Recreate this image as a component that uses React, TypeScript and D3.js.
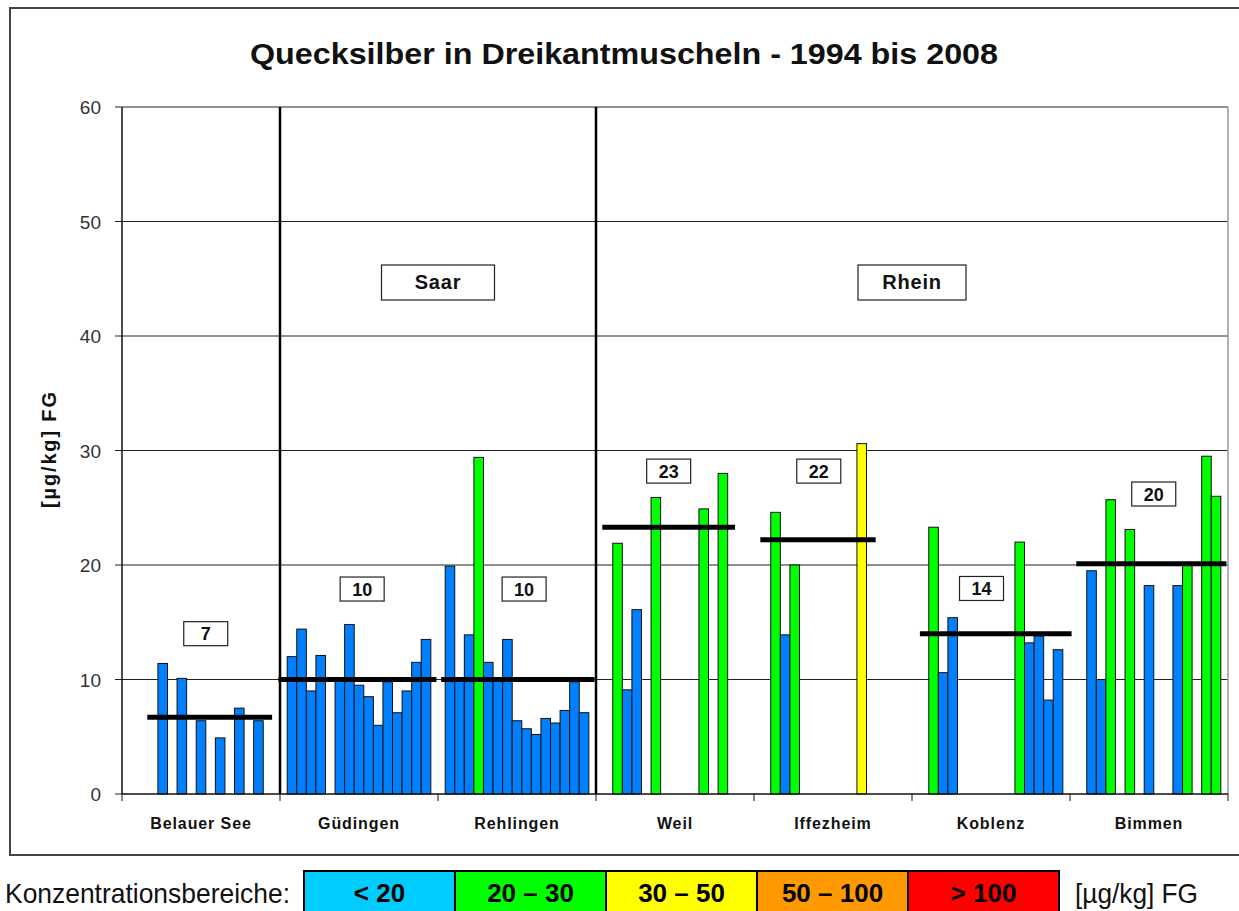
import React from "react";
import * as d3 from "d3";

const W = 1239;
const H = 911;

// plot frame (px)
const plot = { left: 122, right: 1228, top: 107, bottom: 794 };

const stations = ["Belauer See", "Güdingen", "Rehlingen", "Weil", "Iffezheim", "Koblenz", "Bimmen"];
const years = ["1994", "1995", "1996", "1997", "1998", "1999", "2000", "2001", "2002", "2003", "2004", "2005", "2006", "2007", "2008"];

// Hg values per station and year, null = no sample
const belauerSee = [null, null, null, 11.4, null, 10.1, null, 6.4, null, 4.9, null, 7.5, null, 6.4, null];
const guedingen = [12.0, 14.4, 9.0, 12.1, null, 9.9, 14.8, 9.5, 8.5, 6.0, 9.8, 7.1, 9.0, 11.5, 13.5];
const rehlingen = [19.9, 9.9, 13.9, 29.4, 11.5, 9.9, 13.5, 6.4, 5.7, 5.2, 6.6, 6.2, 7.3, 9.8, 7.1];
const weil = [null, 21.9, 9.1, 16.1, null, 25.9, null, null, null, null, 24.9, null, 28.0, null, null];
const iffezheim = [null, 24.6, 13.9, 20.0, null, null, null, null, null, null, 30.6, null, null, null, null];
const koblenz = [null, 23.3, 10.6, 15.4, null, null, null, null, null, null, 22.0, 13.2, 13.8, 8.2, 12.6];
const bimmen = [null, 19.5, 10.0, 25.7, null, 23.1, null, 18.2, null, null, 18.2, 20.0, null, 29.5, 26.0];

const seriesByStation: (number | null)[][] = [belauerSee, guedingen, rehlingen, weil, iffezheim, koblenz, bimmen];

// mean per station (line) and the rounded label
const meanValues = [6.7, 10.0, 10.0, 23.3, 22.2, 14.0, 20.1];
const meanLabels = ["7", "10", "10", "23", "22", "14", "20"];

const yTicks = [0, 10, 20, 30, 40, 50, 60];

const legendLabels = ["< 20", "20 – 30", "30 – 50", "50 – 100", "> 100"];
const legendColors = ["#00CCFF", "#00FF00", "#FFFF00", "#FF9900", "#FF0000"];

// hand placed annotation layout (fraction of band, y in data units)
const meanSpans = [[0.16, 0.95], [-0.01, 0.99], [0.02, 0.99], [0.04, 0.88], [0.04, 0.77], [0.05, 1.01], [0.04, 0.99]];
const labelPos = [[0.53, 14.0], [0.52, 17.9], [0.545, 17.9], [0.46, 28.2], [0.41, 28.2], [0.44, 17.95], [0.53, 26.2]];

const barColor = (v: number) => (v < 20 ? "#0080FF" : v < 30 ? "#00FF00" : v < 50 ? "#FFFF00" : v < 100 ? "#FF9900" : "#FF0000");

const font = "'Liberation Sans', Arial, sans-serif";

export default function App() {
  const x = d3.scaleBand().domain(stations).range([plot.left, plot.right]).padding(0);
  const xi = d3.scaleBand().domain(years).range([0, x.bandwidth()]).paddingInner(0).paddingOuter(0.75);
  const y = d3.scaleLinear().domain([0, 60]).range([plot.bottom, plot.top]);
  const bw = x.bandwidth();

  return (
    <svg width={W} height={H} style={{ position: "absolute", left: 0, top: 0 }} fontFamily={font}>
      <rect width={W} height={H} fill="white" />
      {/* outer chart frame */}
      <rect x={10} y={8} width={1240} height={847} fill="none" stroke="#444" strokeWidth={2} />

      <text x={624} y={64} textAnchor="middle" fontSize={29} fontWeight="bold" fill="#111" textLength={748} lengthAdjust="spacingAndGlyphs">
        Quecksilber in Dreikantmuscheln - 1994 bis 2008
      </text>

      {/* grid */}
      {yTicks.map((t) => (
        <g key={t}>
          {t > 0 && <line x1={plot.left} x2={plot.right} y1={y(t)} y2={y(t)} stroke="#222" strokeWidth={1} />}
          <line x1={115} x2={plot.left} y1={y(t)} y2={y(t)} stroke="#222" strokeWidth={1} />
          <text x={101} y={y(t) + 7} textAnchor="end" fontSize={19} fill="#333">
            {t}
          </text>
        </g>
      ))}
      <line x1={plot.right} x2={plot.right} y1={plot.top} y2={plot.bottom} stroke="#999" strokeWidth={1.5} />

      {/* bars */}
      {stations.map((s, si) =>
        seriesByStation[si].map((v, yi) =>
          v == null ? null : (
            <rect
              key={s + yi}
              x={(x(s) ?? 0) + (xi(years[yi]) ?? 0)}
              y={y(v)}
              width={xi.bandwidth()}
              height={y(0) - y(v)}
              fill={barColor(v)}
              stroke="#111"
              strokeWidth={1}
            />
          )
        )
      )}

      {/* axes */}
      <line x1={plot.left} x2={plot.left} y1={plot.top} y2={plot.bottom} stroke="#111" strokeWidth={1.5} />
      <line x1={plot.left} x2={plot.right} y1={plot.bottom} y2={plot.bottom} stroke="#111" strokeWidth={1.5} />
      {stations.concat(["end"]).map((s, i) => {
        const xx = plot.left + i * bw;
        return <line key={"t" + i} x1={xx} x2={xx} y1={plot.bottom} y2={plot.bottom + 7} stroke="#111" strokeWidth={1} />;
      })}
      {stations.map((s) => (
        <text key={"l" + s} x={(x(s) ?? 0) + bw / 2} y={829} textAnchor="middle" fontSize={16} fontWeight="bold" fill="#111" letterSpacing={0.9}>
          {s}
        </text>
      ))}

      {/* region separators */}
      {[stations[1], stations[3]].map((s) => (
        <line key={"sep" + s} x1={x(s)} x2={x(s)} y1={plot.top} y2={plot.bottom} stroke="#000" strokeWidth={2.5} />
      ))}

      {/* mean lines */}
      {stations.map((s, i) => (
        <line
          key={"m" + s}
          x1={(x(s) ?? 0) + meanSpans[i][0] * bw}
          x2={(x(s) ?? 0) + meanSpans[i][1] * bw}
          y1={y(meanValues[i])}
          y2={y(meanValues[i])}
          stroke="#000"
          strokeWidth={5}
        />
      ))}

      {/* mean labels */}
      {stations.map((s, i) => {
        const cx = (x(s) ?? 0) + labelPos[i][0] * bw;
        const cy = y(labelPos[i][1]);
        return (
          <g key={"b" + s}>
            <rect x={cx - 22} y={cy - 12} width={44} height={24} fill="white" stroke="#222" strokeWidth={1.2} />
            <text x={cx} y={cy + 6.5} textAnchor="middle" fontSize={18} fontWeight="bold" fill="#111">
              {meanLabels[i]}
            </text>
          </g>
        );
      })}

      {/* river boxes */}
      {[
        ["Saar", x(stations[2]) ?? 0, 113],
        ["Rhein", x(stations[5]) ?? 0, 108],
      ].map(([t, cx, w]) => (
        <g key={t as string}>
          <rect x={(cx as number) - (w as number) / 2} y={265} width={w as number} height={35} fill="white" stroke="#222" strokeWidth={1.2} />
          <text x={cx as number} y={289} textAnchor="middle" fontSize={20} fontWeight="bold" fill="#111" letterSpacing={0.8}>
            {t as string}
          </text>
        </g>
      ))}

      {/* y axis title */}
      <text transform="translate(56,450) rotate(-90)" textAnchor="middle" fontSize={20} fontWeight="bold" fill="#111" textLength={116} lengthAdjust="spacing">
        [µg/kg] FG
      </text>

      {/* legend */}
      <text x={5} y={903} fontSize={28} fill="#111" textLength={285} lengthAdjust="spacingAndGlyphs">
        Konzentrationsbereiche:
      </text>
      {legendLabels.map((l, i) => (
        <g key={l}>
          <rect x={304 + i * 151} y={871} width={151} height={44} fill={legendColors[i]} stroke="#000" strokeWidth={2} />
          <text x={304 + i * 151 + 75.5} y={902} textAnchor="middle" fontSize={26} fontWeight="bold" fill="#000">
            {l}
          </text>
        </g>
      ))}
      <text x={1075} y={903} fontSize={28} fill="#111" textLength={123} lengthAdjust="spacingAndGlyphs">
        [µg/kg] FG
      </text>
    </svg>
  );
}
